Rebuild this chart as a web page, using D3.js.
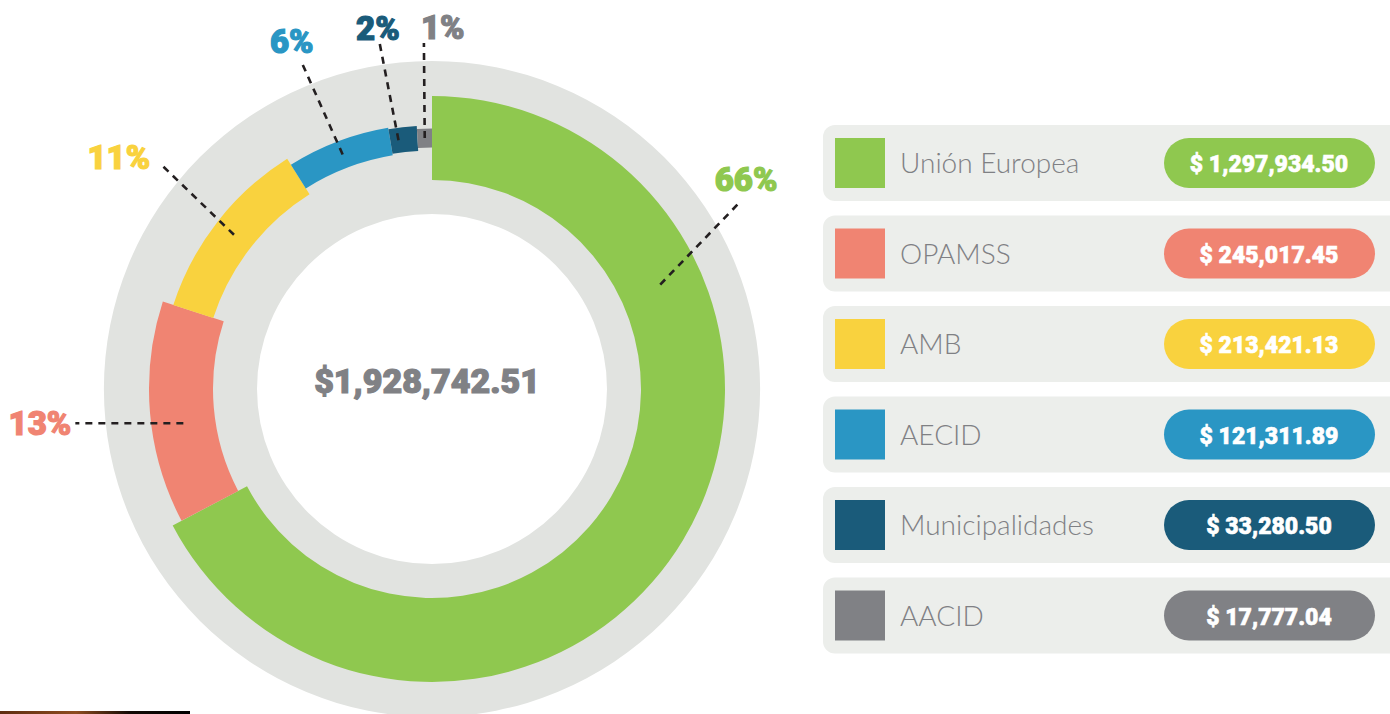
<!DOCTYPE html>
<html>
<head>
<meta charset="utf-8">
<script src="https://cdn.jsdelivr.net/npm/d3@7"></script>
<style>
  body { margin: 0; background: #fff; }
  svg { display: block; }
</style>
</head>
<body>
<div id="chart"></div>
<script>
// data
let fuentes = ["Unión Europea", "OPAMSS", "AMB", "AECID", "Municipalidades", "AACID"];
let montos = [1297934.50, 245017.45, 213421.13, 121311.89, 33280.50, 17777.04];
let porcentajes = ["66%", "13%", "11%", "6%", "2%", "1%"];

let colores = ["#8fc84f", "#f08472", "#f9d23e", "#2a96c4", "#1a5b7a", "#808185"];
let grosor = [84, 64, 42, 28, 25, 19];   // band thickness for each slice

// where each percent label sits: fraction along its arc, leader direction (deg), length, text offset
let etiquetas = [
  {at: 0.27,  dir: 44,    len: 112, dx: 8,   dy: -13, anchor: "middle"},
  {at: 0.435, dir: 270,   len: 108, dx: -4,  dy: 12,  anchor: "end"},
  {at: 0.5,   dir: 314,   len: 104, dx: -9,  dy: 6,   anchor: "end"},
  {at: 0.5,   dir: 336,   len: 103, dx: -9,  dy: -7,  anchor: "middle"},
  {at: 0.3,   dir: 349,   len: 98,  dx: -2,  dy: -4,  anchor: "middle"},
  {at: 0.5,   dir: 359.5, len: 95,  dx: -3,  dy: -4,  anchor: "start"}
];

let width = 1390, height = 714;
let cx = 432, cy = 389;
let rMedio = 251;
let fuenteNum = "Roboto, 'Liberation Sans', sans-serif";

let svg = d3.select("#chart")
              .append("svg")
                  .attr("width", width)
                  .attr("height", height)
;

// little brown strip peeking in at the bottom left
let grad = svg.append("defs")
                .append("linearGradient")
                    .attr("id", "tira")
;
grad.append("stop").attr("offset", "0%").attr("stop-color", "#5e2c10");
grad.append("stop").attr("offset", "40%").attr("stop-color", "#8e4c20");
grad.append("stop").attr("offset", "68%").attr("stop-color", "#140a05");
grad.append("stop").attr("offset", "100%").attr("stop-color", "#000");
svg.append("rect")
      .attr("x", 0)
      .attr("y", 711)
      .attr("width", 190)
      .attr("height", 3)
      .attr("fill", "url(#tira)")
;

let g = svg.append("g")
              .attr("transform", "translate(" + cx + "," + cy + ")")
;

// grey background ring
g.append("path")
    .attr("d", d3.arc()({innerRadius: 175, outerRadius: 328, startAngle: 0, endAngle: 2 * Math.PI}))
    .attr("fill", "#e1e3e0")
;

let pie = d3.pie()
              .sort(null)
              .value(function(d) { return d; })
;
let slices = pie(montos);

let arco = d3.arc()
              .innerRadius(function(d) { return rMedio - grosor[d.index] / 2; })
              .outerRadius(function(d) { return rMedio + grosor[d.index] / 2; })
;

g.selectAll(".slice")
    .data(slices)
    .enter()
    .append("path")
        .attr("class", "slice")
        .attr("d", arco)
        .attr("fill", function(d) { return colores[d.index]; })
;

// leader lines + percent labels
function puntos(d) {
  let e = etiquetas[d.index];
  let a = d.startAngle + e.at * (d.endAngle - d.startAngle);
  let x0 = rMedio * Math.sin(a), y0 = -rMedio * Math.cos(a);
  let r = e.dir * Math.PI / 180;
  let x1 = x0 + e.len * Math.sin(r), y1 = y0 - e.len * Math.cos(r);
  return [x0, y0, x1, y1];
}

g.selectAll(".leader")
    .data(slices)
    .enter()
    .append("line")
        .attr("class", "leader")
        .attr("x1", function(d) { return puntos(d)[0]; })
        .attr("y1", function(d) { return puntos(d)[1]; })
        .attr("x2", function(d) { return puntos(d)[2]; })
        .attr("y2", function(d) { return puntos(d)[3]; })
        .attr("stroke", "#231f20")
        .attr("stroke-width", 2.6)
        .attr("stroke-dasharray", "7,6")
;

g.selectAll(".pct")
    .data(slices)
    .enter()
    .append("text")
        .attr("class", "pct")
        .attr("x", function(d) { return puntos(d)[2] + etiquetas[d.index].dx; })
        .attr("y", function(d) { return puntos(d)[3] + etiquetas[d.index].dy; })
        .attr("text-anchor", function(d) { return etiquetas[d.index].anchor; })
        .attr("fill", function(d) { return colores[d.index]; })
        .attr("stroke", function(d) { return colores[d.index]; })
        .attr("stroke-width", 1.2)
        .style("font-family", fuenteNum)
        .style("font-weight", 900)
        .style("font-size", "33px")
        .text(function(d) { return porcentajes[d.index]; })
;

// total in the middle
g.append("text")
    .attr("x", -5)
    .attr("y", 4)
    .attr("text-anchor", "middle")
    .attr("fill", "#808185")
    .attr("stroke", "#808185")
    .attr("stroke-width", 1.2)
    .style("font-family", fuenteNum)
    .style("font-weight", 900)
    .style("font-size", "34px")
    .text(d3.format("$,.2f")(d3.sum(montos)))
;

// legend on the right
let fila = d3.scalePoint()
                .domain(d3.range(fuentes.length))
                .range([125, 125 + 5 * 90.5])
;
let fmt = d3.format(",.2f");

let leyenda = svg.selectAll(".fila")
                    .data(fuentes)
                    .enter()
                    .append("g")
                        .attr("class", "fila")
                        .attr("transform", function(d, i) { return "translate(0," + fila(i) + ")"; })
;

leyenda.append("rect")
          .attr("x", 823)
          .attr("y", 0)
          .attr("width", 580)
          .attr("height", 76)
          .attr("rx", 12)
          .attr("fill", "#eceeeb")
;
leyenda.append("rect")
          .attr("x", 835)
          .attr("y", 13)
          .attr("width", 50)
          .attr("height", 50)
          .attr("fill", function(d, i) { return colores[i]; })
;
leyenda.append("text")
          .attr("x", 900)
          .attr("y", 48)
          .attr("fill", "#7f8084")
          .style("font-family", "Lato, 'Open Sans', sans-serif")
          .style("font-weight", 300)
          .style("font-size", "28px")
          .text(function(d) { return d; })
;
leyenda.append("rect")
          .attr("x", 1164)
          .attr("y", 13)
          .attr("width", 211)
          .attr("height", 50)
          .attr("rx", 25)
          .attr("fill", function(d, i) { return colores[i]; })
;
leyenda.append("text")
          .attr("x", 1269)
          .attr("y", 47)
          .attr("text-anchor", "middle")
          .attr("fill", "#fff")
          .attr("stroke", "#fff")
          .attr("stroke-width", 0.6)
          .style("font-family", fuenteNum)
          .style("font-weight", 900)
          .style("font-size", "23px")
          .text(function(d, i) { return "$ " + fmt(montos[i]); })
;
</script>
</body>
</html>
